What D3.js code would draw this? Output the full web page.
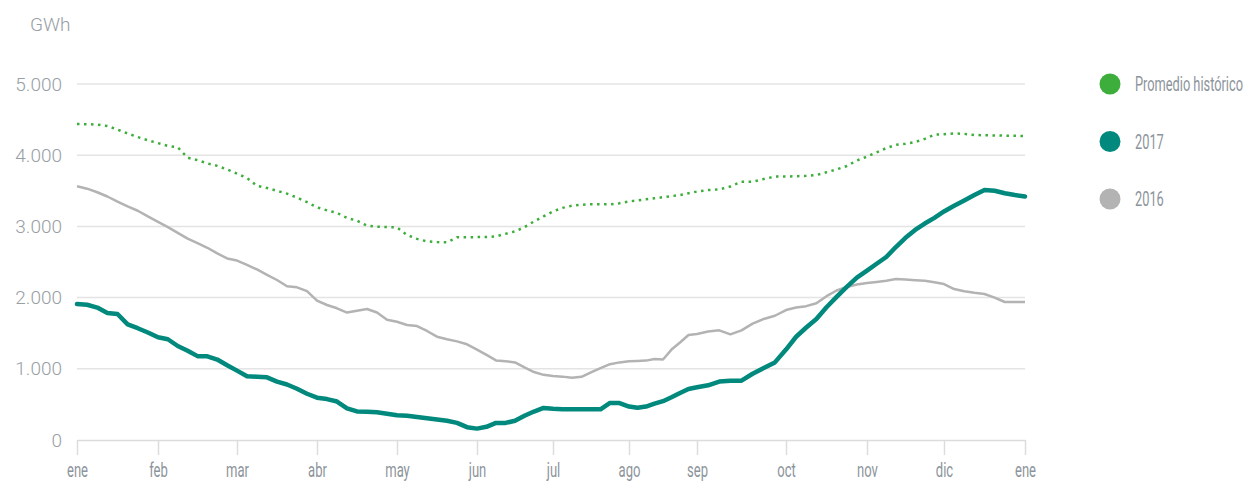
<!DOCTYPE html>
<html>
  <head>
    <meta http-equiv="content-type" content="text/html; charset=utf-8" />
    <title>Reservas GWh</title>
    <script type="text/javascript" src="https://cdn.jsdelivr.net/npm/d3@7"></script>
    <style type="text/css">
      body { margin: 0; background: #fff; }
    </style>
  </head>
  <body>
    <script type="text/javascript">
// eje x: meses (marcas), datos muestreados cada 1/8 de mes
var meses = ["ene", "feb", "mar", "abr", "may", "jun", "jul", "ago", "sep", "oct", "nov", "dic", "ene"];
var yTicks = [0, 1000, 2000, 3000, 4000, 5000];

var promedio = [
  4438, 4435, 4430, 4410, 4360, 4305, 4255, 4210,
  4170, 4130, 4110, 3965, 3930, 3885, 3850, 3800,
  3740, 3680, 3570, 3540, 3500, 3460, 3405, 3340,
  3268, 3225, 3190, 3120, 3080, 3010, 2995, 2990,
  2985, 2880, 2825, 2790, 2780, 2776, 2846, 2848,
  2850, 2852, 2860, 2895, 2930, 2990, 3070, 3140,
  3210, 3260, 3290, 3305, 3310, 3310, 3310, 3325,
  3350, 3365, 3380, 3395, 3410, 3425, 3441, 3465,
  3490, 3511, 3520, 3560, 3628, 3628, 3665, 3700,
  3700, 3705, 3710, 3722, 3760, 3800, 3848, 3925,
  3980, 4040, 4100, 4145, 4160, 4185, 4230, 4288,
  4295, 4305, 4300, 4284, 4280, 4278, 4275, 4272,
  4270
];

var v2016 = [
  3565, 3530, 3480, 3420, 3347, 3280, 3220, 3140,
  3065, 2990, 2910, 2828, 2765, 2700, 2620, 2550,
  2520, 2460, 2395, 2320, 2247, 2160, 2144, 2090,
  1957, 1896, 1850, 1790, 1815, 1840, 1790, 1690,
  1660, 1615, 1601, 1531, 1451, 1415, 1385, 1344,
  1270, 1195, 1118, 1105, 1090, 1020, 955, 915,
  899, 890, 875, 888, 950, 1010, 1065, 1090,
  1105, 1110, 1115, 1138, 1130, 1270, 1370, 1475,
  1488, 1525, 1540, 1484, 1540, 1635, 1700, 1745,
  1825, 1860, 1880, 1920, 2020, 2100, 2150, 2185,
  2205, 2220, 2238, 2261, 2255, 2245, 2236, 2215,
  2190, 2120, 2090, 2068, 2050, 2000, 1938, 1938,
  1938
];

var v2017 = [
  1910, 1900, 1860, 1785, 1770, 1624, 1570, 1510,
  1442, 1415, 1320, 1254, 1178, 1175, 1130, 1050,
  974, 895, 889, 880, 820, 780, 720, 650,
  594, 575, 540, 445, 402, 398, 390, 370,
  348, 340, 322, 304, 288, 271, 240, 180,
  160, 185, 240, 240, 270, 340, 400, 450,
  438, 431, 431, 431, 431, 431, 520, 518,
  470, 454, 470, 510, 545, 600, 660, 716,
  740, 768, 820, 833, 833, 930, 1010, 1090,
  1270, 1450, 1580, 1700, 1865, 2010, 2150, 2280,
  2380, 2475, 2570, 2710, 2840, 2950, 3040, 3120,
  3210, 3290, 3365, 3440, 3510, 3500, 3465, 3440,
  3420
];

var series = ["Promedio histórico", "2017", "2016"];
var colores = ["#3dae3b", "#00897c", "#b3b3b3"];

var w = 1256, h = 482;

var svg = d3.select("body").append("svg")
  .attr("width", w)
  .attr("height", h);

// posiciones de las marcas de mes (no son uniformes en el original)
var x = d3.scaleLinear()
  .domain(d3.range(13))
  .range([77, 158, 237, 317, 397, 477, 553, 629, 697, 786, 867, 944, 1025]);

var y = d3.scaleLinear()
  .domain([0, 5000])
  .range([440, 84]);

var es = d3.formatLocale({ decimal: ",", thousands: ".", grouping: [3], currency: ["", ""] });
var fmt = es.format(",");

// texto estrecho: comprime el ancho natural
function condensar(sel, k) {
  sel.each(function() {
    var l = this.getComputedTextLength();
    d3.select(this).attr("textLength", l * k).attr("lengthAdjust", "spacingAndGlyphs");
  });
}

// rejilla
svg.append("g")
  .selectAll("line")
  .data(yTicks.filter(function(d) { return d > 0; }))
  .enter().append("line")
    .attr("x1", x(0))
    .attr("x2", x(12))
    .attr("y1", function(d) { return y(d); })
    .attr("y2", function(d) { return y(d); })
    .attr("stroke", "#e4e4e4")
    .attr("stroke-width", 1.5);

// etiquetas eje y
svg.append("g")
  .selectAll("text")
  .data(yTicks)
  .enter().append("text")
    .attr("x", 62)
    .attr("y", function(d) { return y(d); })
    .attr("dy", "0.35em")
    .attr("text-anchor", "end")
    .attr("font-family", "Roboto, sans-serif")
    .attr("font-weight", 300)
    .attr("font-size", 19)
    .attr("fill", "#979ea4")
    .text(function(d) { return fmt(d); });

svg.append("text")
  .attr("x", 30)
  .attr("y", 24)
  .attr("dy", "0.35em")
  .attr("font-family", "Roboto, sans-serif")
  .attr("font-weight", 300)
  .attr("font-size", 19)
  .attr("fill", "#979ea4")
  .text("GWh");

// eje x
var xAxis = d3.axisBottom(x)
  .tickValues(d3.range(13))
  .tickSize(15)
  .tickSizeOuter(0)
  .tickFormat(function(d) { return meses[d]; });

var gx = svg.append("g")
  .attr("transform", "translate(0," + y(0) + ")")
  .call(xAxis);

gx.select(".domain").attr("stroke", "#dcdcdc").attr("stroke-width", 1.5);
gx.selectAll(".tick line").attr("stroke", "#dcdcdc").attr("stroke-width", 1.5);
gx.selectAll(".tick text")
  .attr("y", 37)
  .attr("dy", 0)
  .attr("font-family", "Roboto, sans-serif")
  .attr("font-size", 21)
  .attr("fill", "#8c949b")
  .call(condensar, 0.62);

// lineas
var line = d3.line()
  .x(function(d, i) { return x(i / 8); })
  .y(function(d) { return y(d); });

svg.append("path")
  .datum(v2016)
  .attr("d", line)
  .attr("fill", "none")
  .attr("stroke", colores[2])
  .attr("stroke-width", 2.5)
  .attr("stroke-linejoin", "round");

svg.append("path")
  .datum(promedio)
  .attr("d", line)
  .attr("fill", "none")
  .attr("stroke", colores[0])
  .attr("stroke-width", 2.5)
  .attr("stroke-dasharray", "2.5,4.5");

svg.append("path")
  .datum(v2017)
  .attr("d", line)
  .attr("fill", "none")
  .attr("stroke", colores[1])
  .attr("stroke-width", 4.5)
  .attr("stroke-linejoin", "round")
  .attr("stroke-linecap", "round");

// leyenda (texto estrechado con escala horizontal)
var leg = svg.append("g")
  .selectAll("g")
  .data(series)
  .enter().append("g")
    .attr("transform", function(d, i) { return "translate(1110," + (84 + i * 57.5) + ")"; });

leg.append("circle")
  .attr("r", 10.5)
  .attr("fill", function(d, i) { return colores[i]; });

leg.append("g")
  .attr("transform", "translate(25,0) scale(0.64,1)")
  .append("text")
    .attr("dy", "0.35em")
    .attr("font-family", "Roboto, sans-serif")
    .attr("font-size", 20)
    .attr("fill", "#8c949b")
    .text(function(d) { return d; });
    </script>
  </body>
</html>
